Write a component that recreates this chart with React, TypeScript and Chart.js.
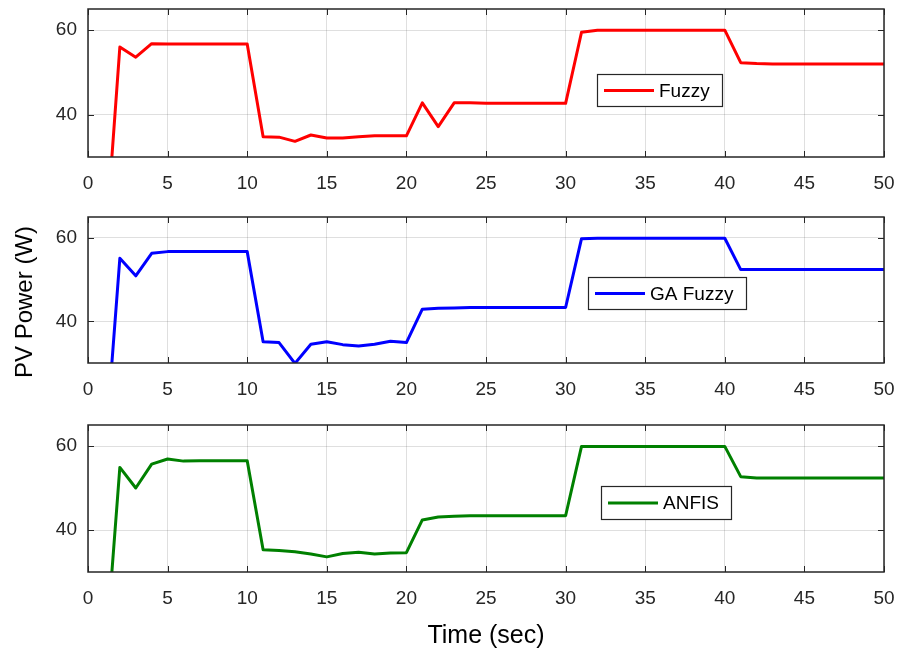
import React, { useEffect, useRef } from "react";
import { Chart, registerables } from "chart.js";

Chart.register(...registerables);

// ---------- data ----------
const timeValues = [
  1.5, 2, 3, 4, 5, 6, 7, 8, 9, 10,
  11, 12, 13, 14, 15, 16, 17, 18, 19, 20,
  21, 22, 23, 24, 25, 26, 27, 28, 29, 30,
  31, 32, 33, 34, 35, 36, 37, 38, 39, 40,
  41, 42, 43, 44, 45, 46, 47, 48, 49, 50,
];

const fuzzyValues = [
  30, 56, 53.6, 56.8, 56.7, 56.7, 56.7, 56.7, 56.7, 56.7,
  34.8, 34.7, 33.7, 35.2, 34.5, 34.5, 34.8, 35, 35, 35,
  42.8, 37.2, 42.8, 42.8, 42.7, 42.7, 42.7, 42.7, 42.7, 42.7,
  59.5, 60, 60, 60, 60, 60, 60, 60, 60, 60,
  52.3, 52.1, 52, 52, 52, 52, 52, 52, 52, 52,
];

const gaFuzzyValues = [
  30, 55.1, 50.9, 56.3, 56.7, 56.7, 56.7, 56.7, 56.7, 56.7,
  35.1, 34.9, 29.9, 34.5, 35.1, 34.4, 34.1, 34.5, 35.2, 34.9,
  42.9, 43.1, 43.2, 43.3, 43.3, 43.3, 43.3, 43.3, 43.3, 43.3,
  59.8, 59.9, 59.9, 59.9, 59.9, 59.9, 59.9, 59.9, 59.9, 59.9,
  52.4, 52.4, 52.4, 52.4, 52.4, 52.4, 52.4, 52.4, 52.4, 52.4,
];

const anfisValues = [
  30, 54.9, 50, 55.7, 56.9, 56.4, 56.5, 56.5, 56.5, 56.5,
  35.3, 35.1, 34.8, 34.3, 33.6, 34.4, 34.7, 34.3, 34.5, 34.6,
  42.4, 43.1, 43.3, 43.4, 43.4, 43.4, 43.4, 43.4, 43.4, 43.4,
  59.9, 59.9, 59.9, 59.9, 59.9, 59.9, 59.9, 59.9, 59.9, 59.9,
  52.7, 52.4, 52.4, 52.4, 52.4, 52.4, 52.4, 52.4, 52.4, 52.4,
];

const xTickValues = [0, 5, 10, 15, 20, 25, 30, 35, 40, 45, 50];
const yTickValues = [40, 60];
const seriesNames = ["Fuzzy", "GA Fuzzy", "ANFIS"];
const yAxisTitle = "PV Power (W)";
const xAxisTitle = "Time (sec)";

// ---------- styling ----------
const FONT = "'Liberation Sans', Arial, Helvetica, sans-serif";
const AXIS_COLOR = "#262626";
const GRID_COLOR = "rgba(38,38,38,0.15)";

type PanelCfg = {
  name: string;
  values: number[];
  color: string;
  top: number;
  height: number;
  padTop: number;
  xAxisHeight: number;
  legendLeft: number;
  legendTop: number;
  legendWidth: number;
  legendHeight: number;
};

const panels: PanelCfg[] = [
  {
    name: seriesNames[0], values: fuzzyValues, color: "#ff0000",
    top: 0, height: 200, padTop: 9, xAxisHeight: 43,
    legendLeft: 597, legendTop: 74, legendWidth: 125, legendHeight: 32,
  },
  {
    name: seriesNames[1], values: gaFuzzyValues, color: "#0000ff",
    top: 200, height: 200, padTop: 17, xAxisHeight: 37,
    legendLeft: 588, legendTop: 77, legendWidth: 158, legendHeight: 32,
  },
  {
    name: seriesNames[2], values: anfisValues, color: "#008000",
    top: 400, height: 255, padTop: 25, xAxisHeight: 83,
    legendLeft: 601, legendTop: 86, legendWidth: 130, legendHeight: 33,
  },
];

const framePlugin = {
  id: "matlabFrame",
  afterDatasetsDraw(chart: any, _args: any, opts: any) {
    const { ctx, chartArea } = chart;
    const { left, right, top, bottom } = chartArea;
    const xs = chart.scales.x;
    const ys = chart.scales.y;
    ctx.save();
    ctx.strokeStyle = AXIS_COLOR;
    ctx.lineWidth = 1;
    ctx.beginPath();
    const tl = 6;
    xTickValues.forEach((v) => {
      const px = Math.round(xs.getPixelForValue(v)) + 0.5;
      ctx.moveTo(px, top);
      ctx.lineTo(px, top + tl);
      ctx.moveTo(px, bottom);
      ctx.lineTo(px, bottom - tl);
    });
    yTickValues.forEach((v) => {
      const py = Math.round(ys.getPixelForValue(v)) + 0.5;
      ctx.moveTo(left, py);
      ctx.lineTo(left + tl, py);
      ctx.moveTo(right, py);
      ctx.lineTo(right - tl, py);
    });
    ctx.stroke();
    ctx.lineWidth = 1.5;
    ctx.strokeRect(left, top, right - left, bottom - top);

    const L = opts.left, T = opts.top, W = opts.width, H = opts.height;
    ctx.fillStyle = "#ffffff";
    ctx.fillRect(L, T, W, H);
    ctx.lineWidth = 1.2;
    ctx.strokeStyle = AXIS_COLOR;
    ctx.strokeRect(L + 0.5, T + 0.5, W, H);
    const cy = T + H / 2 + 0.5;
    ctx.strokeStyle = opts.color;
    ctx.lineWidth = 3;
    ctx.beginPath();
    ctx.moveTo(L + 7, cy);
    ctx.lineTo(L + 57, cy);
    ctx.stroke();
    ctx.fillStyle = "#000000";
    ctx.font = `19px ${FONT}`;
    ctx.textBaseline = "middle";
    ctx.textAlign = "left";
    ctx.fillText(opts.label, L + 62, cy + 1);
    ctx.restore();
  },
};

function Panel({ cfg }: { cfg: PanelCfg }) {
  const ref = useRef<HTMLCanvasElement | null>(null);
  useEffect(() => {
    if (!ref.current) return;
    const points = timeValues.map((t, i) => ({ x: t, y: cfg.values[i] }));
    const chart = new Chart(ref.current, {
      type: "line",
      data: {
        datasets: [
          {
            label: cfg.name,
            data: points,
            borderColor: cfg.color,
            backgroundColor: cfg.color,
            borderWidth: 3,
            pointRadius: 0,
            tension: 0,
            fill: false,
            borderJoinStyle: "round",
          },
        ],
      },
      options: {
        animation: false,
        responsive: false,
        devicePixelRatio: 1,
        layout: { padding: { top: cfg.padTop, right: 30, left: 0, bottom: 0 } },
        plugins: {
          legend: { display: false },
          tooltip: { enabled: false },
          matlabFrame: {
            left: cfg.legendLeft,
            top: cfg.legendTop,
            width: cfg.legendWidth,
            height: cfg.legendHeight,
            color: cfg.color,
            label: cfg.name,
          },
        } as any,
        scales: {
          x: {
            type: "linear",
            min: 0,
            max: 50,
            afterBuildTicks: (scale: any) => {
              scale.ticks = xTickValues.map((v) => ({ value: v }));
            },
            afterFit: (scale: any) => {
              scale.height = cfg.xAxisHeight;
              scale.paddingLeft = 0;
              scale.paddingRight = 0;
            },
            grid: { color: GRID_COLOR, drawTicks: false, lineWidth: 1 },
            border: { display: false },
            ticks: {
              color: AXIS_COLOR,
              font: { family: FONT, size: 19 },
              padding: 15,
              maxRotation: 0,
              autoSkip: false,
            },
          },
          y: {
            type: "linear",
            min: 30,
            max: 65,
            afterBuildTicks: (scale: any) => {
              scale.ticks = yTickValues.map((v) => ({ value: v }));
            },
            afterFit: (scale: any) => {
              scale.width = 88;
              scale.paddingTop = 0;
              scale.paddingBottom = 0;
            },
            grid: { color: GRID_COLOR, drawTicks: false, lineWidth: 1 },
            border: { display: false },
            ticks: {
              color: AXIS_COLOR,
              font: { family: FONT, size: 19 },
              padding: 11,
            },
          },
        },
      },
      plugins: [framePlugin],
    } as any);
    return () => chart.destroy();
  }, [cfg]);
  return (
    <canvas
      ref={ref}
      width={914}
      height={cfg.height}
      style={{ position: "absolute", left: 0, top: cfg.top, width: 914, height: cfg.height }}
    />
  );
}

export default function App() {
  return (
    <div
      style={{
        position: "fixed",
        left: 0,
        top: 0,
        width: 914,
        height: 655,
        background: "#ffffff",
        overflow: "hidden",
      }}
    >
      {panels.map((p) => (
        <Panel key={p.name} cfg={p} />
      ))}
      <div
        style={{
          position: "absolute",
          left: 24,
          top: 302,
          transform: "translate(-50%, -50%) rotate(-90deg)",
          fontFamily: FONT,
          fontSize: 24,
          lineHeight: "24px",
          whiteSpace: "nowrap",
          color: "#000",
        }}
      >
        {yAxisTitle}
      </div>
      <div
        style={{
          position: "absolute",
          left: 486,
          top: 622,
          transform: "translateX(-50%)",
          fontFamily: FONT,
          fontSize: 25,
          lineHeight: "25px",
          whiteSpace: "nowrap",
          color: "#000",
        }}
      >
        {xAxisTitle}
      </div>
    </div>
  );
}
